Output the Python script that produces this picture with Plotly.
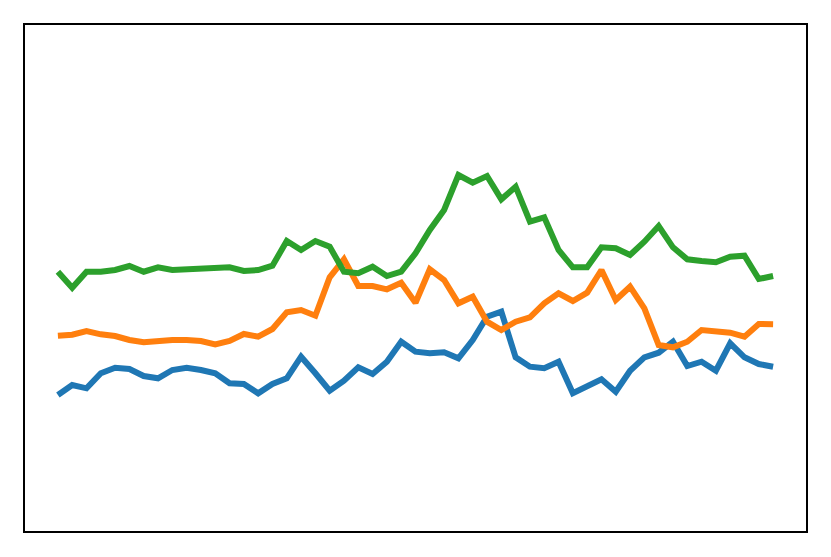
import plotly.graph_objects as go

x_vals = list(range(51))

blue = [136, 146, 142.7, 157.7, 163.3, 162, 155, 152.7, 161, 163.3, 161, 157.7, 147.7, 147, 137.7, 147, 152.7,
        174.3, 157.7, 140.3, 150.3, 163.7, 157, 169.3, 189.3, 179.3, 177.7, 178.7, 172.7, 191, 214.3, 219.3,
        173.7, 164.3, 162.7, 169.3, 137.7, 144.3, 151.7, 139.3, 160.3, 173.7, 178.3, 189.3, 165, 169.3, 160.3,
        187.7, 173.7, 167, 164.3]

orange = [195.3, 196.3, 200, 196.7, 195, 191, 188.7, 190, 191, 191, 190, 186.7, 190, 197, 194.3, 202, 218.7,
          221, 215.3, 253.7, 271.7, 245, 245, 241.7, 248.3, 228.3, 261.7, 251, 227.7, 234.3, 209.3, 201, 209.3,
          213.7, 227.7, 237.7, 230, 238.3, 261, 231, 244.3, 222.7, 186, 183.7, 189.3, 201, 200, 198.3, 194.3,
          207, 206.7]

green = [259.3, 243.3, 259.3, 259.3, 261, 265, 259.3, 263.7, 261, 261.7, 262.7, 263.7, 263.7, 260, 261, 265.3,
         290, 281, 290, 284.3, 259.3, 257.7, 264.3, 255, 259.3, 277.7, 301, 321, 356, 348.3, 355, 331.7, 344.3,
         309.3, 313.7, 281, 263.7, 263.7, 283.7, 282.7, 276, 289.3, 305, 283.7, 271.7, 270, 268.7, 274.3, 275.3,
         252, 255]

series = [("blue", blue, "#1f77b4"), ("orange", orange, "#ff7f0e"), ("green", green, "#2ca02c")]

fig = go.Figure()
for name, vals, col in series:
    fig.add_trace(go.Scatter(x=x_vals, y=vals, mode="lines", name=name,
                             line=dict(color=col, width=6)))

axis_common = dict(showgrid=False, zeroline=False, showticklabels=False, ticks="",
                   showline=True, mirror=True, linecolor="black", linewidth=1.5)
fig.update_xaxes(range=[-2.3, 52.3], **axis_common)
fig.update_yaxes(range=[0, 506], **axis_common)
fig.update_layout(width=815, height=541, showlegend=False,
                  margin=dict(l=17, r=17, t=17, b=18),
                  paper_bgcolor="white", plot_bgcolor="white")
fig.write_html("out.html")
